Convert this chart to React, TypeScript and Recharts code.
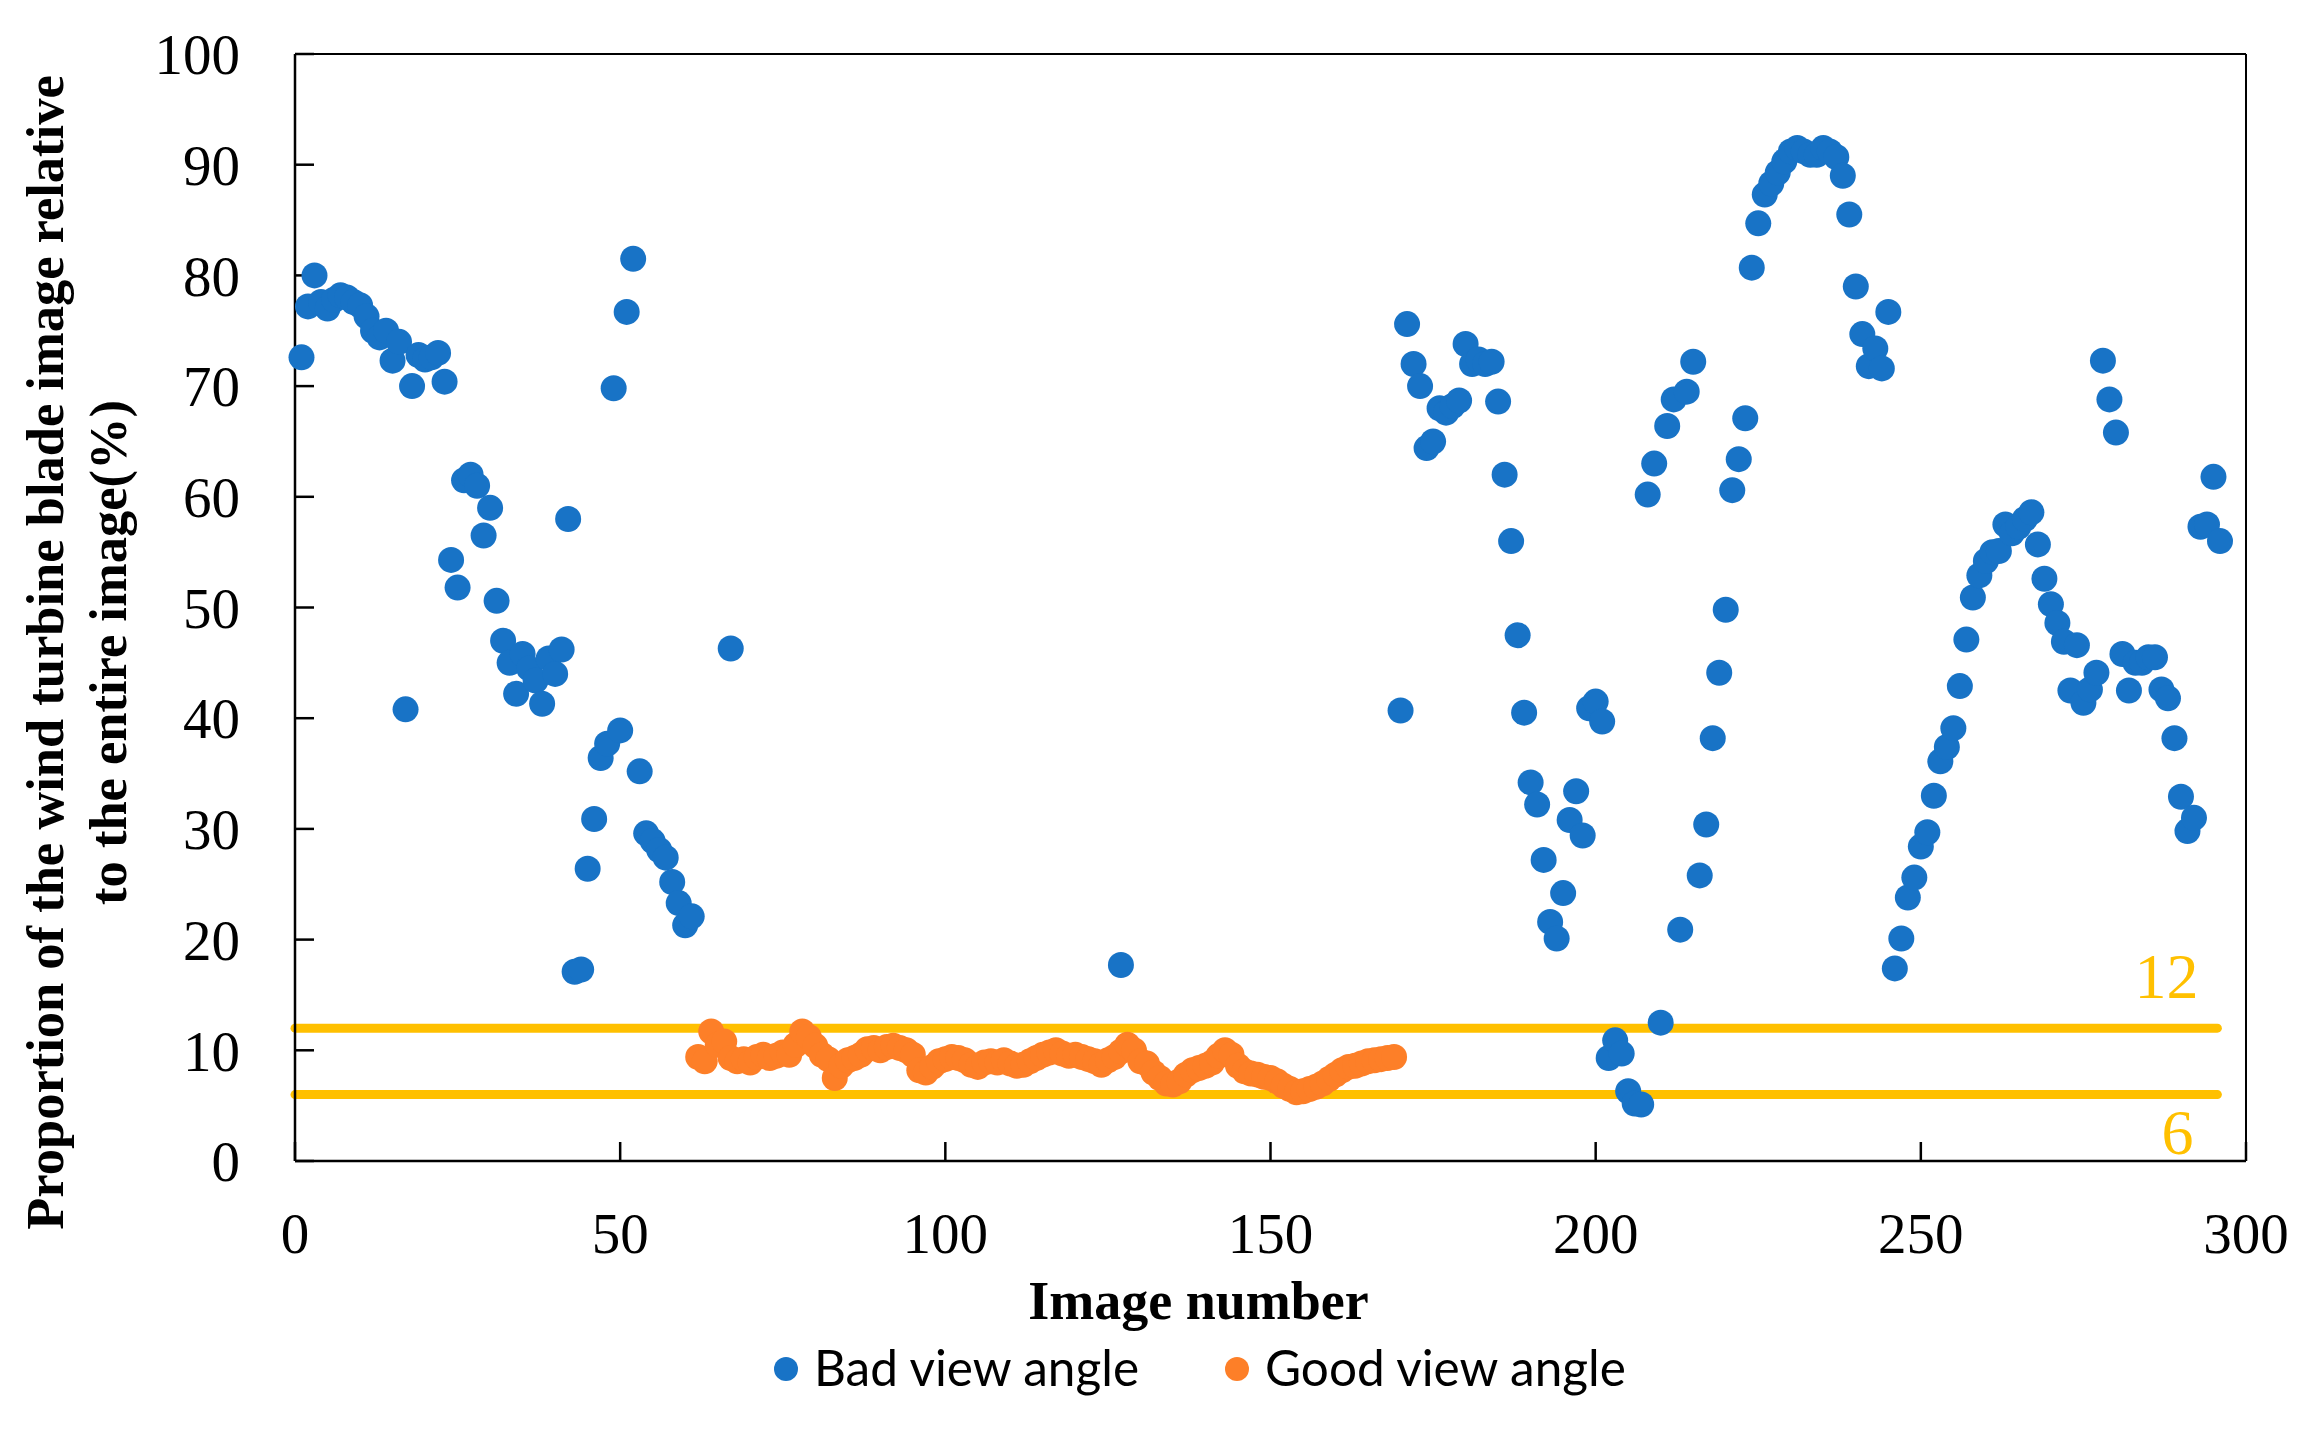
import { ScatterChart, Scatter, XAxis, YAxis, ReferenceLine, Legend } from "recharts";

const BLUE = "#1873C6";
const ORANGE = "#FD7F28";
const GOLD = "#FFC000";

// bad view angle: image number / proportion (%)
const badX = [
  1, 2, 3, 4, 5, 6, 7, 8, 9, 10, 11, 12, 13, 14, 15, 16, 17, 18, 19, 20, 21, 22, 23, 24, 25, 26, 27, 28, 29, 30,
  31, 32, 33, 34, 35, 36, 37, 38, 39, 40, 41, 42, 43, 44, 45, 46, 47, 48, 49, 50, 51, 52, 53, 54, 55, 56, 57, 58,
  59, 60, 61, 67, 127,
  170, 171, 172, 173, 174, 175, 176, 177, 178, 179, 180, 181, 182, 183, 184, 185, 186, 187, 188, 189, 190, 191,
  192, 193, 194, 195, 196, 197, 198, 199, 200, 201, 202, 203, 204, 205, 206, 207, 208, 209, 210, 211, 212, 213,
  214, 215, 216, 217, 218, 219, 220, 221, 222, 223, 224, 225, 226, 227, 228, 229, 230, 231, 232, 233, 234, 235,
  236, 237, 238, 239, 240, 241, 242, 243, 244, 245, 246, 247, 248, 249, 250, 251, 252, 253, 254, 255, 256, 257,
  258, 259, 260, 261, 262, 263, 264, 265, 266, 267, 268, 269, 270, 271, 272, 273, 274, 275, 276, 277, 278, 279,
  280, 281, 282, 283, 284, 285, 286, 287, 288, 289, 290, 291, 292, 293, 294, 295, 296,
];
const badY = [
  72.6, 77.2, 80.0, 77.6, 77.0, 77.8, 78.2, 78.0, 77.6, 77.3, 76.3, 75.0, 74.4, 75.0, 72.3, 74.0, 40.8, 70.0,
  72.8, 72.4, 72.6, 73.0, 70.4, 54.3, 51.8, 61.5, 62.0, 61.0, 56.5, 59.0, 50.6, 47.0, 45.0, 42.2, 45.8, 44.5,
  43.4, 41.3, 45.4, 44.0, 46.2, 58.0, 17.1, 17.3, 26.4, 30.9, 36.4, 37.7, 69.8, 38.9, 76.7, 81.5, 35.2, 29.6,
  28.9, 28.1, 27.4, 25.2, 23.3, 21.3, 22.1, 46.3, 17.7,
  40.7, 75.6, 72.0, 70.0, 64.4, 65.0, 68.0, 67.6, 68.2, 68.7, 73.8, 72.0, 72.4, 72.0, 72.2, 68.6, 62.0, 56.0,
  47.5, 40.5, 34.2, 32.2, 27.2, 21.6, 20.1, 24.2, 30.8, 33.4, 29.4, 40.9, 41.5, 39.7, 9.3, 10.9, 9.7, 6.3, 5.2,
  5.1, 60.2, 63.0, 12.5, 66.4, 68.8, 20.9, 69.5, 72.2, 25.8, 30.4, 38.2, 44.1, 49.8, 60.6, 63.4, 67.1, 80.7,
  84.7, 87.3, 88.3, 89.3, 90.3, 91.2, 91.5, 91.2, 90.9, 90.9, 91.5, 91.2, 90.7, 89.0, 85.5, 79.0, 74.7, 71.8,
  73.4, 71.6, 76.7, 17.4, 20.1, 23.8, 25.6, 28.4, 29.7, 33.0, 36.1, 37.4, 39.1, 42.9, 47.1, 50.9, 52.9, 54.2,
  55.0, 55.1, 57.5, 56.7, 57.3, 58.0, 58.6, 55.7, 52.6, 50.3, 48.6, 46.9, 42.5, 46.6, 41.4, 42.6, 44.1, 72.3,
  68.8, 65.8, 45.8, 42.5, 45.0, 45.0, 45.5, 45.5, 42.6, 41.8, 38.2, 32.9, 29.8, 31.0, 57.3, 57.5, 61.8, 56.0,
];

// good view angle: images 62..169
const goodStart = 62;
const goodY = [
  9.4, 9.0, 11.7, 10.5, 10.8, 9.3, 9.0, 9.2, 8.9, 9.4, 9.6, 9.3, 9.5, 9.8, 9.6, 10.5, 11.7, 11.2, 10.4, 9.6,
  9.2, 7.5, 8.6, 9.1, 9.3, 9.6, 10.1, 10.2, 10.0, 10.3, 10.4, 10.2, 10.0, 9.6, 8.2, 8.0, 8.5, 9.0, 9.2, 9.4,
  9.3, 9.1, 8.7, 8.5, 8.9, 9.0, 8.9, 9.1, 8.8, 8.6, 8.7, 9.0, 9.3, 9.6, 9.8, 10.0, 9.7, 9.5, 9.6, 9.4, 9.2,
  9.0, 8.7, 9.1, 9.4, 9.9, 10.5, 10.0, 9.0, 8.8, 8.0, 7.5, 7.0, 6.9, 7.2, 7.8, 8.2, 8.4, 8.6, 8.9, 9.5, 10.0,
  9.6, 8.6, 8.1, 7.9, 7.8, 7.6, 7.5, 7.2, 6.8, 6.5, 6.2, 6.3, 6.5, 6.7, 7.0, 7.4, 7.8, 8.2, 8.5, 8.6, 8.8,
  9.0, 9.1, 9.2, 9.3, 9.4,
];

const xTicks = [0, 50, 100, 150, 200, 250, 300];
const yTicks = [0, 10, 20, 30, 40, 50, 60, 70, 80, 90, 100];
const limitLines = [12, 6];
const limitEnd = 295.6;

const badData = badX.map((x, i) => ({ x, y: badY[i] }));
const goodData = goodY.map((y, i) => ({ x: goodStart + i, y }));

const SERIF = "'Liberation Serif', 'Times New Roman', serif";

const dot = (color: string) => (p: any) => <circle cx={p.cx} cy={p.cy} r={13} fill={color} />;

function XLabel({ viewBox }: any) {
  const cx = viewBox.x + viewBox.width / 2 - 72;
  return (
    <text x={cx} y={1319} textAnchor="middle" fontFamily={SERIF} fontWeight="bold" fontSize={54} fill="#000">
      Image number
    </text>
  );
}

function YLabel({ viewBox }: any) {
  const cy = viewBox.y + viewBox.height / 2 + 45;
  return (
    <g fontFamily={SERIF} fontWeight="bold" fontSize={52.5} fill="#000">
      <text transform={`translate(63,${cy}) rotate(-90)`} textAnchor="middle">
        Proportion of the wind turbine blade image relative
      </text>
      <text transform={`translate(126,${cy}) rotate(-90)`} textAnchor="middle">
        to the entire image(%)
      </text>
    </g>
  );
}

const limitLabel = (text: string, dx: number, dy: number) => ({ viewBox }: any) => (
  <text
    x={viewBox.x + viewBox.width - dx}
    y={viewBox.y + dy}
    textAnchor="middle"
    fontFamily={SERIF}
    fontSize={64}
    fill={GOLD}
  >
    {text}
  </text>
);

function renderLegend({ payload }: any) {
  const pos = [786, 1237];
  return (
    <svg width={2311} height={80} style={{ overflow: "visible", display: "block" }}>
      {(payload || []).map((e: any, i: number) => (
        <g key={e.value}>
          <circle cx={pos[i]} cy={29} r={12} fill={e.color} />
          <text x={pos[i] + 28} y={46} fontFamily="Lato, 'Open Sans', sans-serif" fontSize={49.5} fill="#000">
            {e.value}
          </text>
        </g>
      ))}
    </svg>
  );
}

export default function App() {
  return (
    <div style={{ width: 2311, height: 1429, background: "#fff" }}>
      <style>{"body{margin:0}"}</style>
      <ScatterChart width={2311} height={1429} margin={{ top: 54, right: 65, bottom: 108, left: 145 }}>
        <XAxis
          dataKey="x"
          type="number"
          domain={[0, 300]}
          ticks={xTicks}
          interval={0}
          height={80}
          tickSize={-19}
          tickMargin={71}
          axisLine={{ stroke: "#000", strokeWidth: 2.5 }}
          tickLine={{ stroke: "#000", strokeWidth: 2.5 }}
          tick={{ fontFamily: SERIF, fontSize: 57, fill: "#000" }}
          label={<XLabel />}
        />
        <YAxis
          dataKey="y"
          type="number"
          domain={[0, 100]}
          ticks={yTicks}
          interval={0}
          width={150}
          tickSize={-19}
          tickMargin={74}
          axisLine={{ stroke: "#000", strokeWidth: 2.5 }}
          tickLine={{ stroke: "#000", strokeWidth: 2.5 }}
          tick={{ fontFamily: SERIF, fontSize: 57, fill: "#000" }}
          label={<YLabel />}
        />
        <ReferenceLine y={100} stroke="#000" strokeWidth={2} />
        <ReferenceLine x={300} stroke="#000" strokeWidth={2} />
        {limitLines.map((v, i) => (
          <ReferenceLine
            key={v}
            segment={[{ x: 0, y: v }, { x: limitEnd, y: v }]}
            stroke={GOLD}
            strokeWidth={9}
            strokeLinecap="round"
            label={i === 0 ? limitLabel(String(v), 51, -30) : limitLabel(String(v), 40, 59)}
          />
        ))}
        <Scatter name="Bad view angle" data={badData} fill={BLUE} shape={dot(BLUE)} isAnimationActive={false} />
        <Scatter name="Good view angle" data={goodData} fill={ORANGE} shape={dot(ORANGE)} isAnimationActive={false} />
        <Legend
          verticalAlign="bottom"
          content={renderLegend}
          wrapperStyle={{ top: 1340, left: 0, bottom: "auto", width: 2311, height: 80 }}
        />
      </ScatterChart>
    </div>
  );
}
